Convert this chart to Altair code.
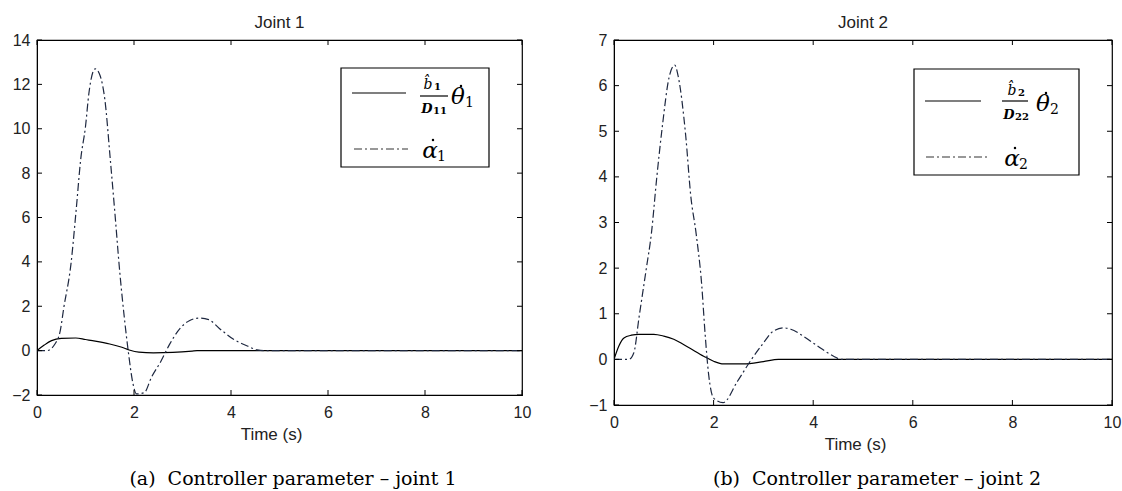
import altair as alt
import pandas as pd

# ---------------- data ----------------
# Joint 1
t_s1 = [0, 0.15, 0.3, 0.5, 0.8, 1.0, 1.2, 1.5, 1.75, 1.9, 2.1, 2.4, 2.8, 3.2, 3.3, 5, 10]
s1 = [0, 0.25, 0.45, 0.55, 0.57, 0.5, 0.43, 0.3, 0.15, 0.03, -0.07, -0.1, -0.08, -0.02, 0, 0, 0]
t_a1 = [0, 0.2, 0.37, 0.48, 0.55, 0.7, 0.81, 0.9, 1.0, 1.07, 1.2, 1.3, 1.4, 1.51, 1.61, 1.7, 1.81,
        1.88, 1.98, 2.05, 2.21, 2.36, 2.55, 2.73, 2.95, 3.14, 3.36, 3.54, 3.76, 4.06, 4.35, 4.54,
        4.7, 6, 10]
a1 = [0, 0, 0.3, 0.9, 1.9, 3.9, 6.4, 8.6, 10.1, 11.6, 12.7, 12.4, 11.3, 8.65, 6.1, 3.7, 1.3,
      0, -1.5, -1.95, -1.9, -1.2, -0.5, 0.27, 1.0, 1.35, 1.47, 1.4, 1.0, 0.5, 0.2, 0.03,
      0, 0, 0]
# Joint 2
t_s2 = [0, 0.1, 0.2, 0.35, 0.5, 0.8, 1.0, 1.2, 1.5, 1.8, 2.0, 2.2, 2.6, 3.0, 3.3, 5, 10]
s2 = [0, 0.3, 0.47, 0.53, 0.55, 0.55, 0.51, 0.44, 0.26, 0.07, -0.04, -0.1, -0.1, -0.05, 0, 0, 0]
t_a2 = [0, 0.3, 0.4, 0.5, 0.65, 0.75, 0.86, 0.97, 1.11, 1.22, 1.29, 1.44, 1.54, 1.65, 1.76, 1.83,
        1.9, 2.0, 2.19, 2.48, 2.76, 2.98, 3.2, 3.41, 3.55, 3.84, 4.13, 4.41, 4.56, 6, 10]
a2 = [0, 0, 0.15, 0.9, 2.0, 2.75, 4.0, 5.1, 6.2, 6.45, 6.2, 4.9, 3.6, 2.75, 1.65, 0.55,
      -0.33, -0.85, -0.95, -0.48, 0, 0.33, 0.62, 0.69, 0.66, 0.48, 0.26, 0.07, 0, 0, 0]

x_ticks = [0, 2, 4, 6, 8, 10]
y_ticks1 = [-2, 0, 2, 4, 6, 8, 10, 12, 14]
y_ticks2 = [-1, 0, 1, 2, 3, 4, 5, 6, 7]

titles = ["Joint 1", "Joint 2"]
captions = ["(a)\u00a0\u00a0Controller parameter \u2013 joint 1",
            "(b)\u00a0\u00a0Controller parameter \u2013 joint 2"]
sub = ["1", "2"]
den_sub = ["11", "22"]

SANS = "Liberation Sans"
SERIF = "DejaVu Serif"
TXT = "#222222"
ALPHA_COLOR = "#1e2840"

one = pd.DataFrame({"k": [0]})


def txt(x, y, s, size, italic=True, font=SERIF, weight="normal", color="black", align="center"):
    return alt.Chart(one).mark_text(
        font=font, fontSize=size, fontStyle="italic" if italic else "normal",
        fontWeight=weight, align=align, baseline="middle", color=color
    ).encode(x=alt.value(x), y=alt.value(y), text=alt.value(s))


def hline(x0, x1, y, dash=None, color="black"):
    kw = dict(color=color, strokeWidth=1.2)
    if dash:
        kw["strokeDash"] = dash
    return alt.Chart(one).mark_rule(**kw).encode(x=alt.value(x0), x2=alt.value(x1), y=alt.value(y))


def dot(x, y):
    return alt.Chart(one).mark_circle(size=6, color="black", opacity=1).encode(
        x=alt.value(x), y=alt.value(y))


def dotted_symbol(x, y, sym, s):
    # symbol with a dot above and a subscript
    return [txt(x, y, sym, 23, italic=True),
            dot(x + 3, y - 11),
            txt(x + 7, y + 6, s, 14, italic=False, align="left")]


def panel(i, t_s, s, t_a, a, ydom, yticks, w, h, title_x, leg, cap_xy):
    xs = alt.Scale(domain=[0, 10], nice=False, zero=False)
    ys = alt.Scale(domain=ydom, nice=False, zero=False)
    xax = alt.Axis(values=x_ticks, ticks=False, grid=False, domainColor="black",
                   labelFont=SANS, labelFontSize=16, labelColor=TXT, labelPadding=9,
                   labelFlush=False, labelOverlap=False,
                   title="Time (s)", titleFont=SANS, titleFontSize=17, titleFontWeight="normal",
                   titleColor=TXT, titleX=title_x, titleY=39, titleBaseline="middle")
    yax = alt.Axis(values=yticks, ticks=False, grid=False, domainColor="black",
                   labelFont=SANS, labelFontSize=16, labelColor=TXT, labelPadding=7,
                   labelFlush=False, labelOverlap=False, title=None)
    df_s = pd.DataFrame({"t": t_s, "v": s})
    df_a = pd.DataFrame({"t": t_a, "v": a})
    df_xt = pd.DataFrame({"t": x_ticks})
    df_yt = pd.DataFrame({"v": yticks})

    solid = alt.Chart(df_s).mark_line(color="black", strokeWidth=1.2, clip=True,
                                      interpolate="monotone").encode(
        x=alt.X("t:Q", scale=xs, axis=xax), y=alt.Y("v:Q", scale=ys, axis=yax))
    alpha = alt.Chart(df_a).mark_line(color=ALPHA_COLOR, strokeWidth=1.2, clip=True,
                                      strokeDash=[8, 3, 2, 3],
                                      interpolate="monotone").encode(x="t:Q", y="v:Q")
    tk = []
    tk.append(alt.Chart(df_xt).mark_rule(color="black").encode(
        x="t:Q", y=alt.value(h), y2=alt.value(h - 5)))
    tk.append(alt.Chart(df_xt).mark_rule(color="black").encode(
        x="t:Q", y=alt.value(0), y2=alt.value(5)))
    tk.append(alt.Chart(df_yt).mark_rule(color="black").encode(
        y="v:Q", x=alt.value(0), x2=alt.value(5)))
    tk.append(alt.Chart(df_yt).mark_rule(color="black").encode(
        y="v:Q", x=alt.value(w - 5), x2=alt.value(w)))

    (bx0, bx1, by0, by1, sx0, sx1, sy, nx, ny, barx0, barx1, bary, dx, dy, thx, thy,
     dsx0, dsx1, dsy, ax, ay) = leg
    box = alt.Chart(one).mark_rect(fill="white", stroke="black", strokeWidth=1.2).encode(
        x=alt.value(bx0), x2=alt.value(bx1), y=alt.value(by0), y2=alt.value(by1))
    legend = [box,
              hline(sx0, sx1, sy),
              txt(nx - 3, ny, "b\u0302", 14),
              txt(nx + 3, ny + 2, sub[i], 10, italic=False, weight="bold", align="left"),
              hline(barx0, barx1, bary),
              txt(dx - 6, dy, "D", 13, weight="bold"),
              txt(dx + 0, dy + 2, den_sub[i], 10, italic=False, weight="bold", align="left"),
              *dotted_symbol(thx - 3, thy, "\u03b8", sub[i]),
              hline(dsx0, dsx1, dsy, dash=[8, 3, 2, 3], color="#333333"),
              *dotted_symbol(ax - 4, ay, "\u03b1", sub[i])]
    cap = txt(cap_xy[0], cap_xy[1], captions[i], 19, italic=False)

    return alt.layer(solid, alpha, *tk, *legend, cap).properties(
        width=w, height=h,
        title=alt.TitleParams(titles[i], font=SANS, fontSize=17, fontWeight="normal",
                              color=TXT, offset=0, anchor="middle"))


leg1 = (304, 452, 28, 127, 315, 369, 53, 394, 45, 383, 411, 56, 396, 69, 424, 57,
        317, 371, 109, 397, 111)
leg2 = (300, 465, 29, 135, 311, 367, 61, 401, 51, 388, 414, 61, 401, 75, 432, 64,
        312, 373, 117, 402, 119)

left = panel(0, t_s1, s1, t_a1, a1, [-2, 14], y_ticks1, 485, 355, 234, leg1, (256, 439))
right = panel(1, t_s2, s2, t_a2, a2, [-1, 7], y_ticks2, 498, 365, 241, leg2, (263, 439))

chart = alt.hconcat(left, right, spacing=92, bounds="flush").properties(
    padding={"left": 11, "top": 13, "right": 0, "bottom": 0}
).configure_view(stroke="black", strokeWidth=1.2)

chart.save("out.html", embed_options={"renderer": "svg", "actions": False})
